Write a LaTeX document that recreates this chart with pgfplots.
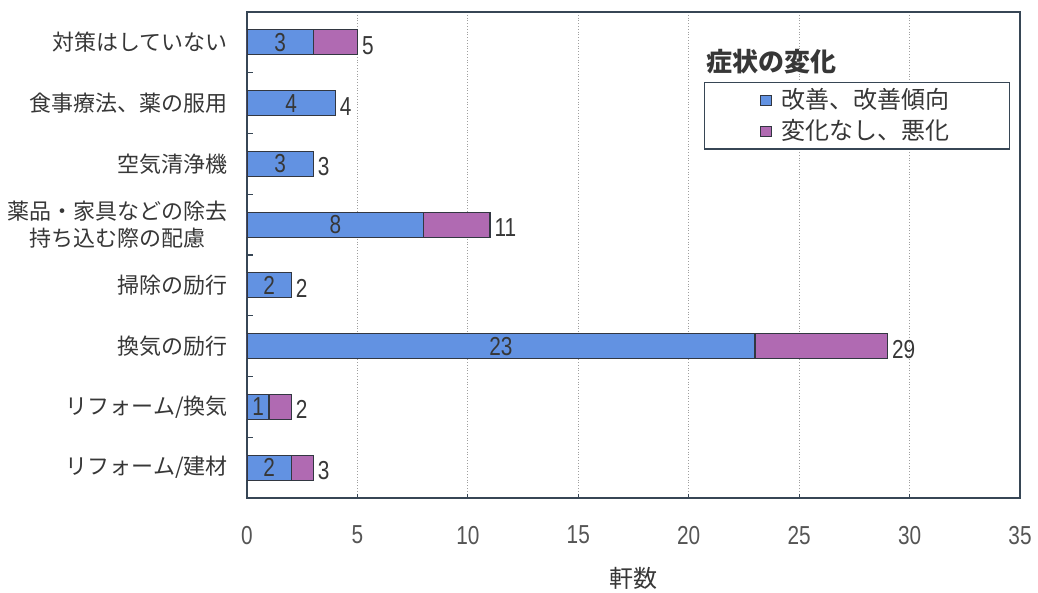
\documentclass[border=0pt]{standalone}
\usepackage{pgfplots}
\usepackage{pgfplotstable}
\pgfplotsset{compat=1.18}
\usepackage{fontspec}
\setmainfont{Noto Sans CJK JP}
\newfontfamily\numfont[FakeStretch=0.8]{Liberation Sans}
\definecolor{cblue}{RGB}{98,146,226}
\definecolor{cpurple}{RGB}{176,106,178}
\definecolor{bordercol}{RGB}{50,55,65}
\definecolor{axiscol}{RGB}{55,70,85}
\definecolor{txtcol}{RGB}{55,55,55}
\definecolor{tickcol}{RGB}{85,85,85}

\pgfplotstableread{
idx a b total
0 3 2 5
1 4 0 4
2 3 0 3
3 8 3 11
4 2 0 2
5 23 6 29
6 1 1 2
7 2 1 3
}\data

\begin{document}
\begin{tikzpicture}
\path[use as bounding box] (-123.5pt,-47.5pt) rectangle (395.5pt,249pt);
\begin{axis}[
  at={(0pt,0pt)}, anchor=south west,
  width=386.5pt, height=243pt, scale only axis,
  xmin=0, xmax=35, xtick={0,5,...,35},
  ymin=-0.5, ymax=7.5, y dir=reverse,
  ytick={0,...,7},
  yticklabels={対策はしていない,{食事療法、薬の服用},空気清浄機,{薬品・家具などの除去\\持ち込む際の配慮},掃除の励行,換気の励行,リフォーム/換気,リフォーム/建材},
  minor ytick={0.5,1.5,...,6.5},
  ytick pos=left, xtick pos=bottom,
  tick align=inside,
  minor tick length=3pt,
  major tick length=2pt,
  major y tick style={draw=none},
  minor y tick style={draw=axiscol, line width=0.6pt},
  major x tick style={draw=axiscol, line width=0.5pt},
  axis line style={draw=axiscol, line width=1pt},
  xmajorgrids,
  major x grid style={densely dotted, draw=gray!75, line width=0.4pt},
  yticklabel style={font=\fontsize{11}{13.5}\selectfont, text=txtcol, align=center, xshift=-6pt},
  xticklabel style={font=\numfont\fontsize{13}{15}\selectfont, text=tickcol, yshift=-10.5pt},
  /pgf/number format/assume math mode=true,
  xlabel={軒数},
  xlabel style={at={(axis description cs:0.5,-0.165)}, anchor=center, font=\fontsize{12}{14}\selectfont, text=txtcol},
  legend style={at={(0.987,0.856)}, anchor=north east, name=leg,
    font=\fontsize{12}{13.5}\selectfont, text=txtcol,
    draw=axiscol, line width=0.6pt, inner xsep=28pt, inner ysep=1pt,
    row sep=0pt, cells={anchor=west}},
  legend image code/.code={\draw[#1, line width=0.4pt] (0pt,-2.6pt) rectangle (5.2pt,2.6pt); \path (8pt,0pt);},
]
\addlegendimage{fill=cblue, draw=bordercol}
\addlegendentry{改善、改善傾向}
\addlegendimage{fill=cpurple, draw=bordercol}
\addlegendentry{変化なし、悪化}

\addplot[xbar, forget plot, bar width=12.5pt, bar shift=0pt, fill=cpurple, draw=bordercol, line width=0.6pt,
  nodes near coords, point meta=x,
  every node near coord/.append style={font=\numfont\fontsize{13}{15}\selectfont, text=txtcol, anchor=west, inner sep=2pt, yshift=-1.5pt}]
  table[x=total, y=idx] {\data};
\addplot[xbar, forget plot, bar width=12.5pt, bar shift=0pt, fill=cblue, draw=bordercol, line width=0.6pt]
  table[x=a, y=idx] {\data};
\addplot[draw=none, forget plot, mark=none,
  nodes near coords, point meta=explicit,
  every node near coord/.append style={font=\numfont\fontsize{13}{15}\selectfont, text=txtcol, anchor=center}]
  table[x expr=\thisrow{a}/2, y=idx, meta=a] {\data};
\end{axis}
\node[anchor=south west, inner sep=0pt, font=\bfseries\fontsize{13}{15}\selectfont, text=txtcol] at ([xshift=1pt, yshift=4pt]leg.north west) {症状の変化};
\end{tikzpicture}
\end{document}
